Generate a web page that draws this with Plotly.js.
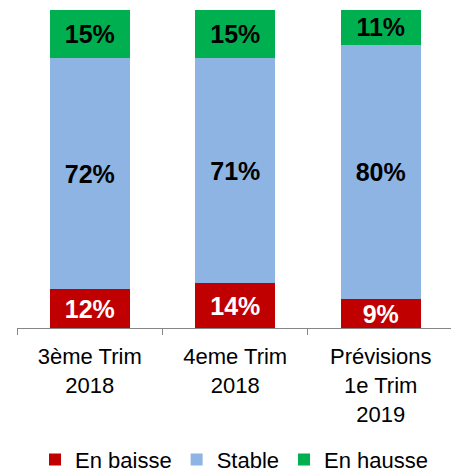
<!DOCTYPE html>
<html>
<head>
<meta charset="utf-8">
<script src="https://cdn.plot.ly/plotly-3.0.1.min.js"></script>
<style>html,body{margin:0;padding:0;background:#fff;}#chart{width:451px;height:473px;}</style>
</head>
<body>
<div id="chart"></div>
<script>
var categories = ["3ème Trim<br>2018", "4eme Trim<br>2018", "Prévisions<br>1e Trim<br>2019"];
var enBaisse = [12, 14, 9];
var stable = [72, 71, 80];
var enHausse = [15, 15, 11];
var seriesNames = ["En baisse", "Stable", "En hausse"];

function pct(arr) { return arr.map(function (v) { return v + "%"; }); }

var FONT = "Liberation Sans, Arial, sans-serif";

function mk(name, vals, color, txtColor) {
  return {
    type: "bar",
    name: name,
    x: categories,
    y: vals,
    text: pct(vals),
    textposition: "inside",
    insidetextanchor: "middle",
    textangle: 0,
    constraintext: "none",
    textfont: {family: FONT, size: 25, color: txtColor, weight: "bold"},
    marker: {color: color, line: {width: 0}},
    hoverinfo: "skip"
  };
}

var data = [
  mk(seriesNames[0], enBaisse, "#C00000", "#FFFFFF"),
  mk(seriesNames[1], stable, "#8EB4E3", "#000000"),
  mk(seriesNames[2], enHausse, "#00B050", "#000000")
];

var layout = {
  width: 451,
  height: 473,
  margin: {l: 17, r: 0, t: 10, b: 145, autoexpand: false},
  barmode: "stack",
  barnorm: "percent",
  bargap: 0.45,
  paper_bgcolor: "#FFFFFF",
  plot_bgcolor: "#FFFFFF",
  font: {family: FONT, size: 22, color: "#000000"},
  showlegend: true,
  hovermode: false,
  xaxis: {
    type: "category",
    range: [-0.5, 2.483],
    automargin: false,
    showline: true,
    linecolor: "#868686",
    linewidth: 1,
    ticks: "outside",
    ticklen: 6,
    tickcolor: "#868686",
    tickson: "boundaries",
    ticklabelstandoff: 9,
    showgrid: false,
    zeroline: false,
    tickfont: {family: FONT, size: 22, color: "#000000"},
    fixedrange: true
  },
  yaxis: {
    range: [0, 100],
    visible: false,
    showgrid: false,
    zeroline: false,
    fixedrange: true
  },
  legend: {
    orientation: "h",
    x: 0.5,
    xanchor: "center",
    yref: "container",
    y: 0.028,
    yanchor: "middle",
    traceorder: "normal",
    font: {family: FONT, size: 22, color: "#000000"},
    itemwidth: 30
  }
};

Plotly.newPlot("chart", data, layout, {displayModeBar: false, staticPlot: true});
</script>
</body>
</html>
